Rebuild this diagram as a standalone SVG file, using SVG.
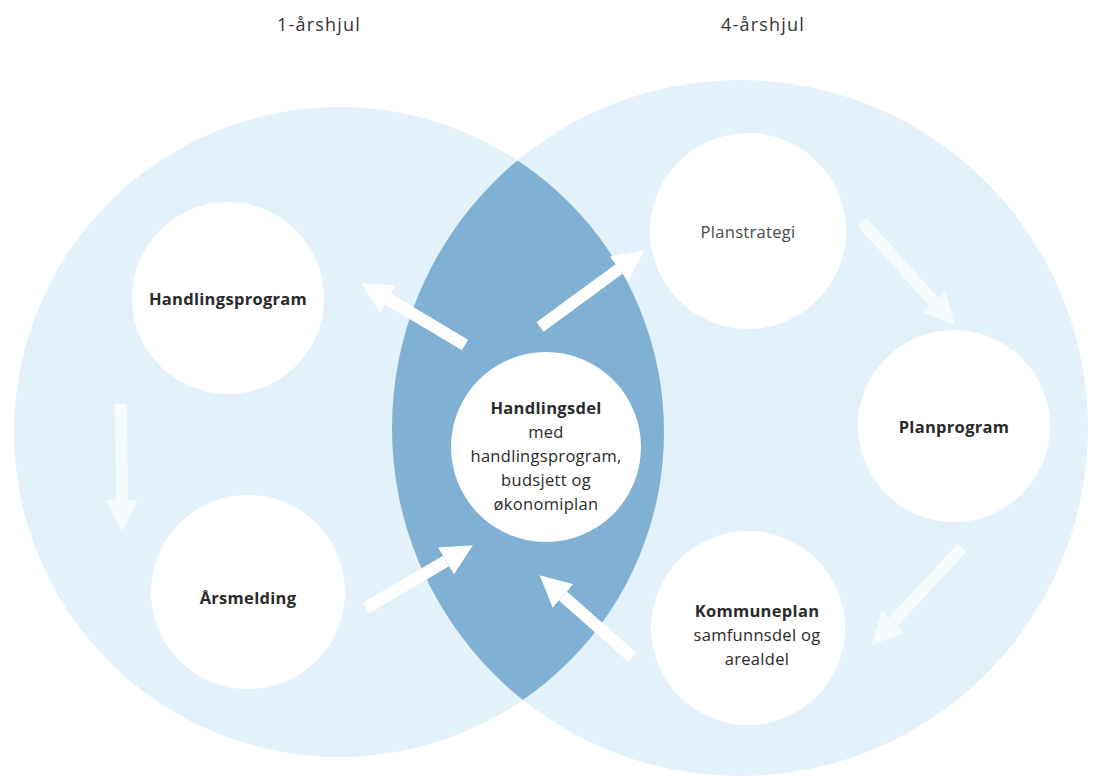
<svg xmlns="http://www.w3.org/2000/svg" width="1094" height="777" viewBox="0 0 1094 777">
  <defs>
    <clipPath id="clipLeft">
      <circle cx="339" cy="432" r="325"/>
    </clipPath>
    <marker id="head" viewBox="0 0 10 10" refX="0" refY="5" markerWidth="2.6" markerHeight="2.9" orient="auto" markerUnits="strokeWidth">
      <path d="M0,0 L10,5 L0,10 Z" fill="#ffffff"/>
    </marker>
  </defs>
  <style>
    .wheel { fill: #e3f2fa; }
    .lens { fill: #80b1d4; }
    .node { fill: #ffffff; }
    .title { font-family: "Open Sans", "Liberation Sans", sans-serif; font-size: 18px; fill: #333333; text-anchor: middle; letter-spacing: 1.2px; }
    .lbl { font-family: "Open Sans", "Liberation Sans", sans-serif; font-size: 16.5px; fill: #2a2a2a; text-anchor: middle; letter-spacing: 0.3px; }
    .b { font-weight: bold; }
    .light { fill: #4a4a4a; }
    .arrow { fill: none; stroke: #ffffff; stroke-width: 12; marker-end: url(#head); }
    .faint { opacity: 0.7; }
  </style>
  <rect x="0" y="0" width="1094" height="777" fill="#ffffff"/>

  <g id="wheels">
    <circle class="wheel" cx="339" cy="432" r="325"/>
    <circle class="wheel" cx="740" cy="428" r="348"/>
    <circle class="lens" cx="740" cy="428" r="348" clip-path="url(#clipLeft)"/>
  </g>

  <text class="title" x="319" y="31">1-årshjul</text>
  <text class="title" x="763" y="31">4-årshjul</text>

  <g id="connectors">
    <line class="arrow faint" x1="121" y1="404" x2="122" y2="500"/>
    <line class="arrow" x1="465" y1="345" x2="388" y2="299"/>
    <line class="arrow" x1="540" y1="327" x2="619" y2="269"/>
    <line class="arrow faint" x1="862" y1="222" x2="934" y2="302"/>
    <line class="arrow faint" x1="962" y1="548" x2="893" y2="622"/>
    <line class="arrow" x1="632" y1="657" x2="563" y2="596"/>
    <line class="arrow" x1="366" y1="608" x2="446" y2="561"/>
  </g>

  <g id="node-handlingsprogram">
    <circle class="node" cx="228" cy="298" r="96"/>
    <text class="lbl b" x="228" y="305">Handlingsprogram</text>
  </g>
  <g id="node-arsmelding">
    <circle class="node" cx="248" cy="592" r="97"/>
    <text class="lbl b" x="248" y="604">Årsmelding</text>
  </g>
  <g id="node-handlingsdel">
    <circle class="node" cx="546" cy="447" r="95"/>
    <text class="lbl" x="546" y="414"><tspan class="b">Handlingsdel</tspan></text>
    <text class="lbl" x="546" y="438">med</text>
    <text class="lbl" x="546" y="462">handlingsprogram,</text>
    <text class="lbl" x="546" y="486">budsjett og</text>
    <text class="lbl" x="546" y="510">økonomiplan</text>
  </g>
  <g id="node-planstrategi">
    <circle class="node" cx="748" cy="231" r="98"/>
    <text class="lbl light" x="748" y="238">Planstrategi</text>
  </g>
  <g id="node-planprogram">
    <circle class="node" cx="954" cy="426" r="96"/>
    <text class="lbl b" x="954" y="433">Planprogram</text>
  </g>
  <g id="node-kommuneplan">
    <circle class="node" cx="748" cy="628" r="97"/>
    <text class="lbl b" x="757" y="617">Kommuneplan</text>
    <text class="lbl" x="757" y="641">samfunnsdel og</text>
    <text class="lbl" x="757" y="665">arealdel</text>
  </g>
</svg>
